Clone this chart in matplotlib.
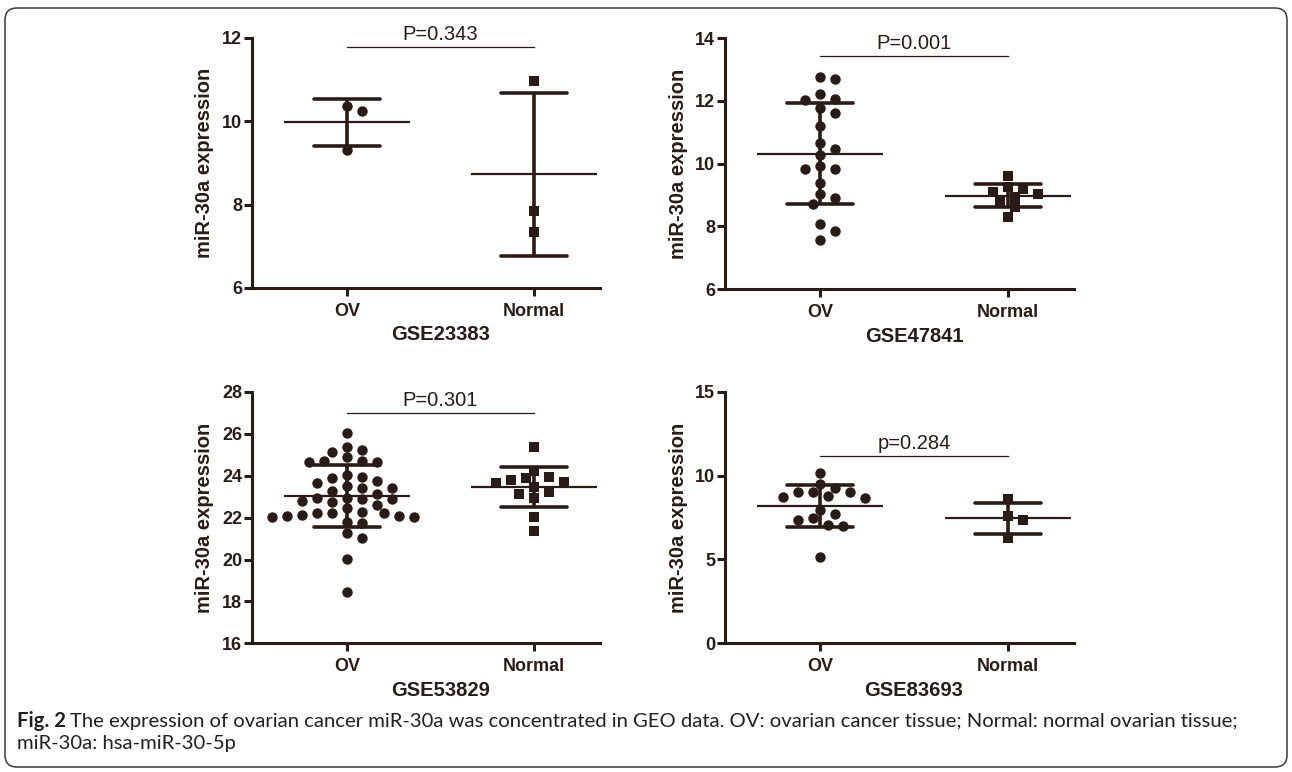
import matplotlib
matplotlib.use('Agg')
import matplotlib.pyplot as plt
import numpy as np
from matplotlib.patches import FancyBboxPatch

W, H = 1292, 772
INK = '#2b1b17'
CAP_INK = '#231f20'

plt.rcParams['font.family'] = ['Liberation Sans', 'DejaVu Sans']
plt.rcParams['font.weight'] = 'bold'

groups = ['OV', 'Normal']
datasets = ['GSE23383', 'GSE47841', 'GSE53829', 'GSE83693']

# ---- values ----
gse23383_ov = [10.36, 10.24, 9.32]
gse23383_normal = [10.96, 7.86, 7.34]
gse23383_mean = [9.98, 8.73]
gse23383_sd = [0.56, 1.96]

gse47841_ov = [12.78, 12.70, 12.23, 12.03, 12.05, 11.77, 11.61, 11.21, 10.67,
               10.48, 10.28, 9.83, 9.91, 9.83, 9.38, 9.04, 8.90, 8.72, 8.07,
               7.86, 7.55]
gse47841_normal = [9.59, 9.19, 9.24, 9.03, 9.11, 8.95, 8.79, 8.61, 8.31]
gse47841_mean = [10.32, 8.98]
gse47841_sd = [1.62, 0.375]

gse53829_ov = [26.03, 25.23, 25.39, 25.15, 24.88, 24.72, 24.67, 24.67, 24.72,
               24.04, 23.88, 23.92, 23.64, 23.75, 23.40, 23.40, 23.53, 23.27,
               22.95, 22.89, 23.11, 22.95, 22.80, 22.89, 22.60, 22.73, 22.44,
               22.09, 22.01, 22.20, 22.20, 22.20, 22.01, 22.28, 22.09, 22.13,
               21.73, 21.81, 21.04, 21.25, 20.01, 18.46]
gse53829_normal = [25.39, 24.24, 23.88, 23.80, 23.96, 23.72, 23.64, 23.45,
                   23.13, 23.24, 22.92, 22.01, 21.38]
gse53829_mean = [23.02, 23.45]
gse53829_sd = [1.49, 0.96]

gse83693_ov = [10.14, 9.28, 9.48, 9.04, 9.04, 9.04, 8.71, 8.65, 8.80, 7.95,
               7.69, 7.49, 7.35, 7.06, 7.00, 5.17]
gse83693_normal = [8.58, 7.59, 7.35, 6.26]
gse83693_mean = [8.20, 7.45]
gse83693_sd = [1.24, 0.91]

p_labels = ['P=0.343', 'P=0.001', 'P=0.301', 'p=0.284']
p_bar_y = [11.78, 13.44, 26.98, 11.17]

y_limits = [(6, 12), (6, 14), (16, 28), (0, 15)]
y_ticks = [[6, 8, 10, 12], [6, 8, 10, 12, 14],
           [16, 18, 20, 22, 24, 26, 28], [0, 5, 10, 15]]

ov_values = [gse23383_ov, gse47841_ov, gse53829_ov, gse83693_ov]
normal_values = [gse23383_normal, gse47841_normal, gse53829_normal, gse83693_normal]
means = [gse23383_mean, gse47841_mean, gse53829_mean, gse83693_mean]
sds = [gse23383_sd, gse47841_sd, gse53829_sd, gse83693_sd]

caption_bold = 'Fig. 2'
caption_line1 = ('The expression of ovarian cancer miR-30a was concentrated in GEO data. '
                 'OV: ovarian cancer tissue; Normal: normal ovarian tissue;')
caption_line2 = 'miR-30a: hsa-miR-30-5p'

# ---- layout (pixel rectangles: left, top, right, bottom from the top edge) ----
panel_px = [(252, 38, 600, 288), (725, 38.3, 1074, 289),
            (252, 392, 600, 643.3), (725, 391.7, 1074, 643.3)]

fig = plt.figure(figsize=(W / 100, H / 100), dpi=100)
fig.patch.set_facecolor('white')

XL = (-0.508, 1.353)


def swarm_positions(ax, values, center, step_px=7.5, min_d_px=10.5):
    """Simple beeswarm: place each point at the nearest horizontal step
    (in pixels) where it does not collide with already placed points."""
    trans = ax.transData
    ypx = np.array([trans.transform((0, v))[1] for v in values])
    x0 = trans.transform((0, 0))[0]
    x1 = trans.transform((1, 0))[0]
    step_units = step_px / (x1 - x0)
    seq = [0]
    for n in range(1, 30):
        seq += [n, -n]
    placed = []
    offs = np.zeros(len(values))
    for i in np.argsort(-np.array(values), kind='stable'):
        for s in seq:
            xp = s * step_px
            if all((xp - px) ** 2 + (ypx[i] - py) ** 2 >= min_d_px ** 2
                   for px, py in placed):
                placed.append((xp, ypx[i]))
                offs[i] = s * step_units
                break
    return center + offs


for k in range(4):
    l, t, r, b = panel_px[k]
    ax = fig.add_axes([l / W, (H - b) / H, (r - l) / W, (b - t) / H])
    ax.set_xlim(*XL)
    ax.set_ylim(*y_limits[k])
    ax.set_facecolor('none')
    for sp in ['top', 'right']:
        ax.spines[sp].set_visible(False)
    for sp in ['left', 'bottom']:
        ax.spines[sp].set_linewidth(2.2)
        ax.spines[sp].set_color(INK)
        ax.spines[sp].set_capstyle('projecting')
    ax.set_yticks(y_ticks[k])
    ax.set_xticks([0, 1])
    ax.set_xticklabels(groups)
    ax.tick_params(axis='both', direction='out', length=5.5, width=2.2,
                   color=INK, labelcolor=INK, labelsize=13)
    ax.tick_params(axis='y', pad=1.5)
    ax.tick_params(axis='x', pad=5)

    # points
    xo = swarm_positions(ax, ov_values[k], 0)
    ax.scatter(xo, ov_values[k], s=7.5 ** 2, marker='o', color=INK,
               linewidths=0, zorder=3)
    xn = swarm_positions(ax, normal_values[k], 1)
    ax.scatter(xn, normal_values[k], s=6.8 ** 2, marker='s', color=INK,
               linewidths=0, zorder=3)

    # mean and SD
    for c in range(2):
        m = means[k][c]
        sd = sds[k][c]
        ax.plot([c - 0.337, c + 0.337], [m, m], color=INK, lw=1.6,
                solid_capstyle='butt', zorder=4)
        ax.plot([c, c], [m - sd, m + sd], color=INK, lw=2.6,
                solid_capstyle='butt', zorder=4)
        for yv in (m - sd, m + sd):
            ax.plot([c - 0.177, c + 0.177], [yv, yv], color=INK, lw=2.6,
                    solid_capstyle='round', zorder=4)

    # significance bar
    ax.plot([0, 1], [p_bar_y[k]] * 2, color=INK, lw=0.9, clip_on=False)
    ax.annotate(p_labels[k], xy=(0.5, p_bar_y[k]), xytext=(0, 5),
                textcoords='offset points', ha='center', va='baseline',
                fontsize=14.5, fontweight='normal', color=INK,
                annotation_clip=False)

    ax.set_ylabel('miR-30a expression', fontsize=14.5, fontweight='bold',
                  color=INK, va='center')
    ax.yaxis.set_label_coords(-47 / (r - l), 0.5)
    ax.set_xlabel(datasets[k], fontsize=14.5, fontweight='bold', color=INK,
                  va='center')
    ax.xaxis.set_label_coords((-XL[0] + 0.5) / (XL[1] - XL[0]), -47 / (b - t))

# ---- caption ----
renderer = fig.canvas.get_renderer()
cap_family = ['Lato', 'DejaVu Sans']
y1 = (H - 721) / H
y2 = (H - 744) / H
x_start = 17
target_right = 1232


def place_caption(size):
    tb = fig.text(x_start / W, y1, caption_bold, family=cap_family,
                  fontweight='bold', fontsize=size, color=CAP_INK, va='center')
    bb = tb.get_window_extent(renderer)
    space = size * 0.28
    tr = fig.text((bb.x1 + space) / W, y1, caption_line1, family=cap_family,
                  fontweight='normal', fontsize=size, color=CAP_INK, va='center')
    t2 = fig.text(x_start / W, y2, caption_line2, family=cap_family,
                  fontweight='normal', fontsize=size, color=CAP_INK, va='center')
    return tb, tr, t2


size0 = 12.0
tb, tr, t2 = place_caption(size0)
right = tr.get_window_extent(renderer).x1
for t in (tb, tr, t2):
    t.remove()
size1 = size0 * (target_right - x_start) / (right - x_start)
place_caption(size1)

# ---- outer rounded border ----
border = FancyBboxPatch((5, H - 767), 1282, 759,
                        boxstyle='round,pad=0,rounding_size=12',
                        transform=None, facecolor='none', edgecolor='#3a3a3a',
                        linewidth=1.1)
fig.patches.append(border)

fig.savefig('out.png', dpi=100)
